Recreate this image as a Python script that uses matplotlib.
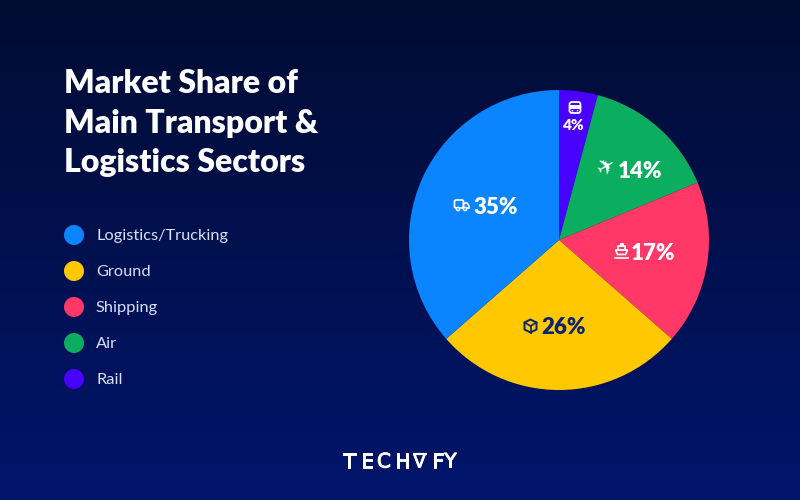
import numpy as np
import matplotlib
matplotlib.use('Agg')
import matplotlib.pyplot as plt
import matplotlib.patheffects as pe
from matplotlib.patches import Circle, Rectangle, FancyBboxPatch, Polygon

# Data
sectors = ['Rail', 'Air', 'Shipping', 'Ground', 'Logistics/Trucking']
shares = [4, 14, 17, 26, 35]
colors = ['#4800ff', '#0bae5f', '#ff3868', '#ffc800', '#0a84ff']
legend_order = ['Logistics/Trucking', 'Ground', 'Shipping', 'Air', 'Rail']
title_lines = ['Market Share of', 'Main Transport &', 'Logistics Sectors']
logo_letters = list('TECHVFY')

plt.rcParams['font.family'] = ['Lato', 'DejaVu Sans']
W, H = 800, 500
WHITE = '#ffffff'
NAVY = '#0b2270'

fig = plt.figure(figsize=(8, 5), dpi=100)

# Background gradient
bg = fig.add_axes([0, 0, 1, 1])
top = np.array([2, 12, 50]) / 255
bottom = np.array([0, 21, 108]) / 255
t = np.linspace(0, 1, 500)[:, None, None]
bg.imshow(top + (bottom - top) * t, aspect='auto', extent=(0, W, H, 0), zorder=0)
bg.set_xlim(0, W)
bg.set_ylim(H, 0)
bg.axis('off')

# Pie, clockwise from the top
pie_ax = fig.add_axes([409 / W, (H - 390) / H, 300 / W, 300 / H])
pie_ax.pie(shares, colors=colors, startangle=90, counterclock=False, radius=1)
pie_ax.set_xlim(-1, 1)
pie_ax.set_ylim(-1, 1)
pie_ax.patch.set_alpha(0)

# Overlay in pixel coordinates for text and icons
ov = fig.add_axes([0, 0, 1, 1])
ov.set_xlim(0, W)
ov.set_ylim(H, 0)
ov.axis('off')
ov.patch.set_alpha(0)

# Title
for line, y in zip(title_lines, [93, 133, 172]):
    ov.text(64, y, line, color=WHITE, fontsize=23, fontweight='heavy', ha='left', va='baseline')

# Legend
for i, name in enumerate(legend_order):
    y = 235 + 36 * i
    ov.add_patch(Circle((74, y), 10, color=colors[sectors.index(name)], lw=0))
    ov.text(96, y + 1, name, color='#d8dff7', fontsize=11.8, fontweight='normal', ha='left', va='center')

# Percent labels
label_pos = {'Logistics/Trucking': (495.5, 205, WHITE, 16), 'Ground': (564, 326, NAVY, 16),
             'Shipping': (653, 251, WHITE, 16), 'Air': (640, 169, WHITE, 16), 'Rail': (574, 125, WHITE, 11)}
for name, share in zip(sectors, shares):
    x, y, c, fs = label_pos[name]
    ov.text(x, y, f'{share}%', color=c, fontsize=fs, fontweight='heavy', ha='center', va='center_baseline')


def line_icon(patch):
    ov.add_patch(patch)


# Truck icon
line_icon(FancyBboxPatch((454.5, 200), 9, 8, boxstyle='round,pad=0,rounding_size=1.5', fc='none', ec=WHITE, lw=1.2))
line_icon(Polygon([(463.5, 203), (467, 203), (469, 206), (469, 208), (463.5, 208)], fc='none', ec=WHITE, lw=1.2))
for cx in (458, 465):
    line_icon(Circle((cx, 209), 1.6, fc='#0a84ff', ec=WHITE, lw=1.1))

# Plane icon
ov.text(607, 168, '\u2708', color=WHITE, fontsize=16, family='DejaVu Sans', ha='center', va='center', rotation=30)

# Ship icon
line_icon(Polygon([(615.5, 250), (627.5, 250), (625.5, 254.5), (617.5, 254.5)], fc='none', ec=WHITE, lw=1.2))
line_icon(Rectangle((618, 246), 7, 4, fc='none', ec=WHITE, lw=1.2))
line_icon(Rectangle((620, 243), 3, 3, fc=WHITE, ec=WHITE, lw=0.6))
ov.plot([615, 628], [257.5, 257.5], color=WHITE, lw=1.2)

# Box icon
line_icon(Polygon([(530.5, 319.5), (536.5, 322.5), (536.5, 329.5), (530.5, 332.5), (524.5, 329.5), (524.5, 322.5)],
                  fc='none', ec=NAVY, lw=1.4))
ov.plot([524.5, 530.5, 536.5], [322.5, 326, 322.5], color=NAVY, lw=1.2)
ov.plot([530.5, 530.5], [326, 332.5], color=NAVY, lw=1.2)

# Train icon
line_icon(FancyBboxPatch((569.5, 102), 11, 11, boxstyle='round,pad=0,rounding_size=2.5', fc='none', ec=WHITE, lw=1.3))
line_icon(Rectangle((570, 105), 10, 3.5, fc=WHITE, ec='none'))
for cx in (572.5, 577.5):
    line_icon(Circle((cx, 110.8), 0.8, fc=WHITE, ec='none'))

# Logo, letter by letter
for ch, x in zip(logo_letters, [349.5, 367, 384, 402.5, 419.5, 438, 450.5]):
    size = 12.5 if ch == 'V' else 14.4
    ov.text(x, 467.5, ch, color=WHITE, fontsize=size, family='DejaVu Sans', ha='center', va='baseline',
            path_effects=[pe.withStroke(linewidth=0.7, foreground=WHITE)])
ov.plot([412.5, 426.5], [453.5, 453.5], color=WHITE, lw=1.6, solid_capstyle='butt')

fig.savefig('out.png', dpi=100)
